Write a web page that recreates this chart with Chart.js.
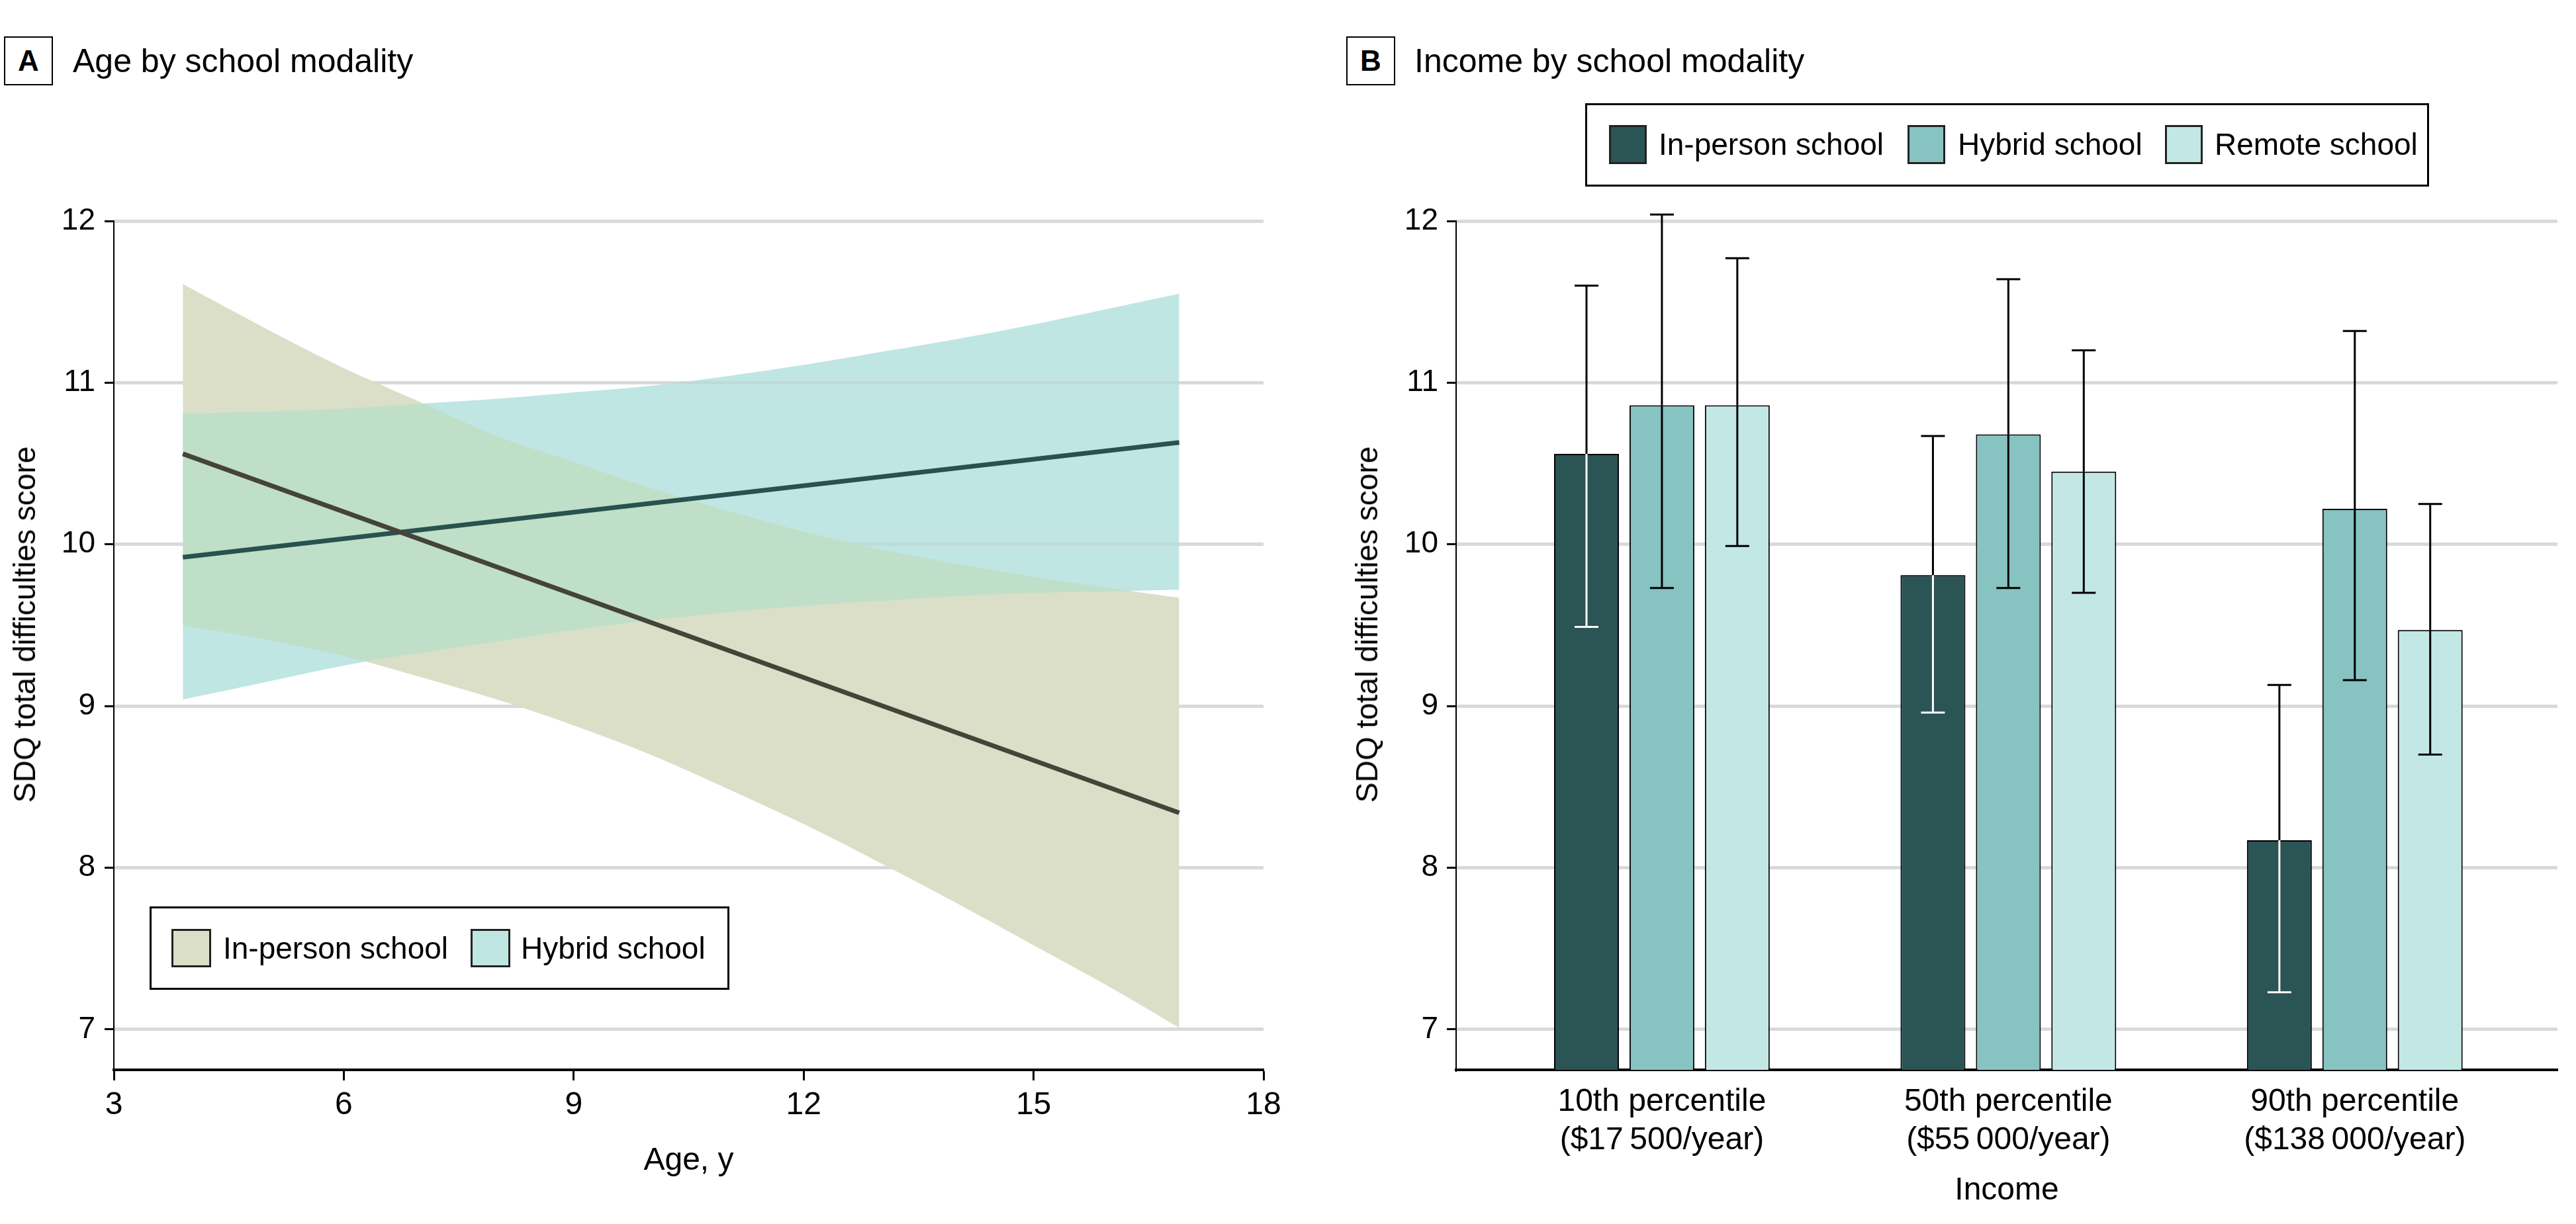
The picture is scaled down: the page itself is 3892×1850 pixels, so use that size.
<!DOCTYPE html>
<html>
<head>
<meta charset="utf-8">
<script src="https://cdn.jsdelivr.net/npm/chart.js@4.4.1/dist/chart.umd.min.js"></script>
<style>
body{margin:0;background:#fff;width:3892px;height:1850px;position:relative;overflow:hidden;font-family:'Liberation Sans',Arial,sans-serif;color:#000}
canvas{position:absolute;top:0}
.tag{position:absolute;top:55px;width:74px;height:74px;box-sizing:border-box;border:2px solid #000;font-weight:bold;font-size:44px;line-height:70px;text-align:center}
.ttl{position:absolute;top:62px;font-size:50px;line-height:60px;white-space:nowrap}
.legend{position:absolute;border:3px solid #000;box-sizing:border-box}
.sw{position:absolute;border:3px solid #222;box-sizing:border-box}
.lt{position:absolute;font-size:46px;line-height:60px;white-space:nowrap}
.ytitle{position:absolute;top:944px;font-size:46px;white-space:nowrap;transform:translate(-50%,-50%) rotate(-90deg)}
</style>
</head>
<body>
<div class="tag" style="left:6px">A</div>
<div class="ttl" style="left:110px">Age by school modality</div>
<div class="tag" style="left:2034px">B</div>
<div class="ttl" style="left:2137px">Income by school modality</div>

<canvas id="ageChart" width="1950" height="1850" style="left:0"></canvas>
<canvas id="incomeChart" width="1942" height="1850" style="left:1950px"></canvas>

<div class="ytitle" style="left:37px">SDQ total difficulties score</div>
<div class="ytitle" style="left:2065px">SDQ total difficulties score</div>

<div class="legend" style="left:226px;top:1370px;width:876px;height:126px"></div>
<div class="sw" style="left:259px;top:1404px;width:60px;height:58px;background:#dbdfc8"></div>
<div class="lt" style="left:337px;top:1403px">In-person school</div>
<div class="sw" style="left:711px;top:1404px;width:60px;height:58px;background:#c0e6e4"></div>
<div class="lt" style="left:787px;top:1403px">Hybrid school</div>

<div class="legend" style="left:2395px;top:156px;width:1275px;height:126px"></div>
<div class="sw" style="left:2431px;top:189px;width:57px;height:59px;background:#2b5454"></div>
<div class="lt" style="left:2506px;top:188px">In-person school</div>
<div class="sw" style="left:2882px;top:189px;width:57px;height:59px;background:#86c3c1"></div>
<div class="lt" style="left:2958px;top:188px">Hybrid school</div>
<div class="sw" style="left:3271px;top:189px;width:57px;height:59px;background:#c2e7e5"></div>
<div class="lt" style="left:3346px;top:188px">Remote school</div>

<script>
// panel A: age (years) and SDQ bands
const ages = [3.9, 5, 6, 7, 8, 9, 10, 11, 12, 13, 14, 15, 16, 16.9];
const inPersonUpper = [11.61, 11.33, 11.09, 10.88, 10.67, 10.51, 10.35, 10.21, 10.08, 9.97, 9.88, 9.80, 9.73, 9.67];
const inPersonLower = [9.50, 9.41, 9.31, 9.18, 9.04, 8.88, 8.70, 8.49, 8.27, 8.03, 7.78, 7.52, 7.26, 7.01];
const hybridUpper = [10.81, 10.82, 10.84, 10.87, 10.90, 10.94, 10.98, 11.04, 11.11, 11.19, 11.27, 11.36, 11.46, 11.55];
const hybridLower = [9.04, 9.15, 9.25, 9.33, 9.40, 9.47, 9.53, 9.58, 9.62, 9.65, 9.68, 9.70, 9.71, 9.72];
const fitAges = [3.9, 16.9];
const inPersonFit = [10.56, 8.34];
const hybridFit = [9.92, 10.63];

// panel B: income groups
const incomePos = [1, 2, 3];
const incomeLabels = [
    ['10th percentile', '($17\u2009500/year)'],
    ['50th percentile', '($55\u2009000/year)'],
    ['90th percentile', '($138\u2009000/year)']
];
const inPersonMean = [10.56, 9.81, 8.17];
const inPersonLow = [9.49, 8.96, 7.23];
const inPersonHigh = [11.60, 10.67, 9.13];
const hybridMean = [10.86, 10.68, 10.22];
const hybridLow = [9.73, 9.73, 9.16];
const hybridHigh = [12.04, 11.64, 11.32];
const remoteMean = [10.86, 10.45, 9.47];
const remoteLow = [9.99, 9.70, 8.70];
const remoteHigh = [11.77, 11.20, 10.25];

const yTicks = [7, 8, 9, 10, 11, 12];

Chart.defaults.font.family = "'Liberation Sans', Arial, sans-serif";
Chart.defaults.font.size = 46;
Chart.defaults.color = '#000';

const pts = (xs, ys) => xs.map((x, i) => ({x: x, y: ys[i]}));

function yScale(width, pad) {
    return {
        min: 6.75, max: 12,
        afterFit: s => { s.width = width; },
        afterBuildTicks: s => { s.ticks = yTicks.map(v => ({value: v})); },
        ticks: {padding: pad, font: {size: 46}},
        grid: {color: '#d9d9d9', lineWidth: 5, tickColor: '#000', tickLength: 14, tickWidth: 3},
        border: {color: '#000', width: 2}
    };
}

// hybrid band is blended with "darken" so the overlap reads green
const blendBand = {
    id: 'blendBand',
    afterDatasetDraw(chart, args) {
        if (args.index === 1) chart.ctx.globalCompositeOperation = 'darken';
        if (args.index === 2) chart.ctx.globalCompositeOperation = 'source-over';
    }
};

const band = (data, color, fill, order) => ({
    data: data, fill: fill, backgroundColor: color, borderWidth: 0,
    pointRadius: 0, cubicInterpolationMode: 'monotone', order: order
});

new Chart(document.getElementById('ageChart'), {
    type: 'line',
    data: {
        datasets: [
            band(pts(ages, inPersonUpper), '#dbdfc8', '+1', 6),
            band(pts(ages, inPersonLower), '#dbdfc8', false, 5),
            band(pts(ages, hybridUpper), '#c0e6e4', '+1', 4),
            band(pts(ages, hybridLower), '#c0e6e4', false, 3),
            {data: pts(fitAges, inPersonFit), borderColor: '#454439', borderWidth: 7, pointRadius: 0, fill: false, order: 1},
            {data: pts(fitAges, hybridFit), borderColor: '#28524f', borderWidth: 7, pointRadius: 0, fill: false, order: 2}
        ]
    },
    options: {
        responsive: false,
        animation: false,
        layout: {padding: {top: 334, right: 41, bottom: 0, left: 0}},
        plugins: {legend: {display: false}, tooltip: {enabled: false}},
        scales: {
            x: {
                type: 'linear', min: 3, max: 18,
                afterFit: s => { s.height = 233; },
                ticks: {stepSize: 3, padding: 9, font: {size: 48}},
                grid: {drawOnChartArea: false, tickLength: 16, tickColor: '#000', tickWidth: 3},
                border: {color: '#000', width: 4},
                title: {display: true, text: 'Age, y', font: {size: 48}, padding: {top: 0, bottom: 66}}
            },
            y: yScale(172, 14)
        }
    },
    plugins: [blendBand]
});

const errorBars = {
    id: 'errorBars',
    afterDatasetsDraw(chart) {
        const ctx = chart.ctx;
        const y = chart.scales.y;
        chart.data.datasets.forEach((ds, di) => {
            chart.getDatasetMeta(di).data.forEach((bar, i) => {
                const x = bar.x;
                const top = bar.y;
                const lo = y.getPixelForValue(ds.errLow[i]);
                const hi = y.getPixelForValue(ds.errHigh[i]);
                ctx.save();
                ctx.lineWidth = 3;
                ctx.strokeStyle = ds.innerWhisker;
                ctx.beginPath();
                ctx.moveTo(x, lo); ctx.lineTo(x, top);
                ctx.moveTo(x - 18, lo); ctx.lineTo(x + 18, lo);
                ctx.stroke();
                ctx.strokeStyle = '#000';
                ctx.beginPath();
                ctx.moveTo(x, top); ctx.lineTo(x, hi);
                ctx.moveTo(x - 18, hi); ctx.lineTo(x + 18, hi);
                ctx.stroke();
                ctx.restore();
            });
        });
    }
};

const barSet = (label, means, lows, highs, color, inner) => ({
    label: label, data: pts(incomePos, means), errLow: lows, errHigh: highs,
    backgroundColor: color, borderColor: '#000', borderWidth: 2, innerWhisker: inner
});

new Chart(document.getElementById('incomeChart'), {
    type: 'bar',
    data: {
        datasets: [
            barSet('In-person school', inPersonMean, inPersonLow, inPersonHigh, '#2b5454', '#fff'),
            barSet('Hybrid school', hybridMean, hybridLow, hybridHigh, '#86c3c1', '#000'),
            barSet('Remote school', remoteMean, remoteLow, remoteHigh, '#c2e7e5', '#000')
        ]
    },
    options: {
        responsive: false,
        animation: false,
        categoryPercentage: 0.653,
        barPercentage: 0.86,
        layout: {padding: {top: 334, right: 28, bottom: 0, left: 0}},
        plugins: {legend: {display: false}, tooltip: {enabled: false}},
        scales: {
            x: {
                type: 'linear', min: 0.406, max: 3.585, offset: false,
                afterFit: s => { s.height = 233; },
                afterBuildTicks: s => { s.ticks = incomePos.map(v => ({value: v})); },
                ticks: {padding: 20, font: {size: 48}, callback: (v, i) => incomeLabels[i]},
                grid: {display: false, drawTicks: false},
                border: {color: '#000', width: 4},
                title: {display: true, text: 'Income', font: {size: 48}, padding: {top: 0, bottom: 21}}
            },
            y: yScale(250, 13)
        }
    },
    plugins: [errorBars]
});
</script>
</body>
</html>
